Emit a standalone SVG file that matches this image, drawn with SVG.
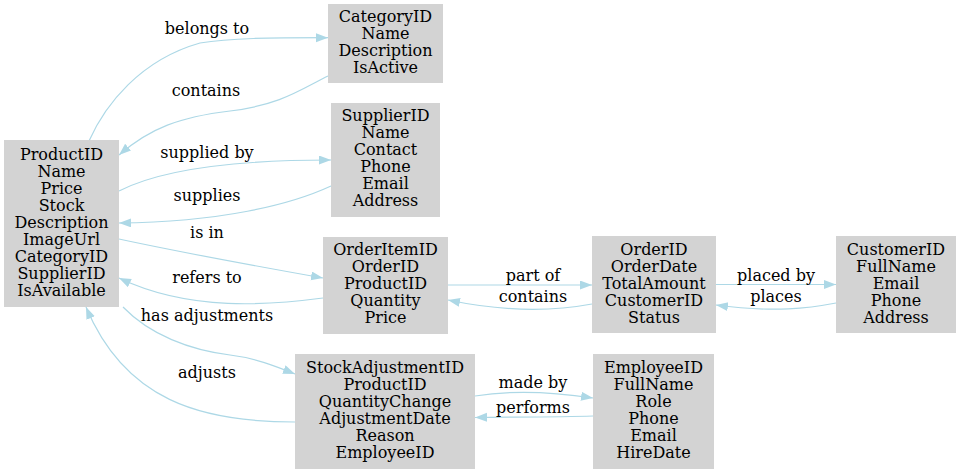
<svg xmlns="http://www.w3.org/2000/svg" width="960" height="473" viewBox="0 0 960 473">
<style>
.box{fill:#d3d3d3;stroke:none}
text{font-family:"DejaVu Serif","Liberation Serif",serif;font-size:16px;fill:#000;text-anchor:middle}
.e{fill:none;stroke:#add8e6;stroke-width:1.2}
</style>
<defs>
<marker id="arr" markerUnits="userSpaceOnUse" markerWidth="13" markerHeight="10" refX="12" refY="4.5" orient="auto">
<path d="M0,0 L12,4.5 L0,9 z" fill="#add8e6"/>
</marker>
</defs>
<rect width="960" height="473" fill="#fff"/>
<g id="connectors">
<path class="e" marker-end="url(#arr)" d="M89,141 C105,105 140,60 200,43 C230,38 270,37.7 328,37.7"/>
<text x="207" y="34">belongs to</text>
<path class="e" marker-end="url(#arr)" d="M328,76 C300,90 280,105 230,111 C180,117 150,128 119,155"/>
<text x="206" y="96">contains</text>
<path class="e" marker-end="url(#arr)" d="M119,191 C160,170 230,160 331,160"/>
<text x="207" y="158">supplied by</text>
<path class="e" marker-end="url(#arr)" d="M331,186 C290,205 220,222 119,223"/>
<text x="207" y="201">supplies</text>
<path class="e" marker-end="url(#arr)" d="M119,239 C170,250 250,265 323,278"/>
<text x="207" y="238">is in</text>
<path class="e" marker-end="url(#arr)" d="M323,298 C270,305 190,312 119,278"/>
<text x="207" y="283">refers to</text>
<path class="e" marker-end="url(#arr)" d="M123,307 C150,335 190,350 230,355 C255,358 275,366 295,374"/>
<text x="207" y="321">has adjustments</text>
<path class="e" marker-end="url(#arr)" d="M295,422 C200,422 125,400 86,307"/>
<text x="207" y="378">adjusts</text>
<path class="e" marker-end="url(#arr)" d="M448,285 L592,285"/>
<text x="533" y="281">part of</text>
<path class="e" marker-end="url(#arr)" d="M592,304 C560,310 510,313 448,300"/>
<text x="533" y="302">contains</text>
<path class="e" marker-end="url(#arr)" d="M716,284.5 L836,284.5"/>
<text x="776" y="281">placed by</text>
<path class="e" marker-end="url(#arr)" d="M836,303 C810,308 775,313 716,305"/>
<text x="776" y="302">places</text>
<path class="e" marker-end="url(#arr)" d="M475,396 C500,392 540,390 593,398"/>
<text x="533" y="388">made by</text>
<path class="e" marker-end="url(#arr)" d="M593,416 C560,417 520,417 475,417.5"/>
<text x="533" y="413">performs</text>
</g>
<g id="product">
<rect class="box" x="4" y="140" width="115" height="167"/>
<text x="61.5" y="159.5">ProductID</text>
<text x="61.5" y="176.5">Name</text>
<text x="61.5" y="193.5">Price</text>
<text x="61.5" y="210.5">Stock</text>
<text x="61.5" y="227.5">Description</text>
<text x="61.5" y="244.5">ImageUrl</text>
<text x="61.5" y="261.5">CategoryID</text>
<text x="61.5" y="278.5">SupplierID</text>
<text x="61.5" y="295.5">IsAvailable</text>
</g>
<g id="category">
<rect class="box" x="328" y="4" width="115" height="79"/>
<text x="385.5" y="21.7">CategoryID</text>
<text x="385.5" y="38.7">Name</text>
<text x="385.5" y="55.7">Description</text>
<text x="385.5" y="72.7">IsActive</text>
</g>
<g id="supplier">
<rect class="box" x="331" y="103" width="109" height="114"/>
<text x="385.5" y="121">SupplierID</text>
<text x="385.5" y="138">Name</text>
<text x="385.5" y="155">Contact</text>
<text x="385.5" y="172">Phone</text>
<text x="385.5" y="189">Email</text>
<text x="385.5" y="206">Address</text>
</g>
<g id="orderitem">
<rect class="box" x="323" y="237" width="125" height="97"/>
<text x="385.5" y="255.3">OrderItemID</text>
<text x="385.5" y="272.3">OrderID</text>
<text x="385.5" y="289.3">ProductID</text>
<text x="385.5" y="306.3">Quantity</text>
<text x="385.5" y="323.3">Price</text>
</g>
<g id="stockadjustment">
<rect class="box" x="295" y="354" width="180" height="115"/>
<text x="385" y="372.5">StockAdjustmentID</text>
<text x="385" y="389.5">ProductID</text>
<text x="385" y="406.5">QuantityChange</text>
<text x="385" y="423.5">AdjustmentDate</text>
<text x="385" y="440.5">Reason</text>
<text x="385" y="457.5">EmployeeID</text>
</g>
<g id="order">
<rect class="box" x="592" y="236" width="124" height="97"/>
<text x="654" y="254.5">OrderID</text>
<text x="654" y="271.5">OrderDate</text>
<text x="654" y="288.5">TotalAmount</text>
<text x="654" y="305.5">CustomerID</text>
<text x="654" y="322.5">Status</text>
</g>
<g id="customer">
<rect class="box" x="836" y="236" width="120" height="97"/>
<text x="896" y="254.5">CustomerID</text>
<text x="896" y="271.5">FullName</text>
<text x="896" y="288.5">Email</text>
<text x="896" y="305.5">Phone</text>
<text x="896" y="322.5">Address</text>
</g>
<g id="employee">
<rect class="box" x="593" y="354" width="121" height="115"/>
<text x="653.5" y="372.5">EmployeeID</text>
<text x="653.5" y="389.5">FullName</text>
<text x="653.5" y="406.5">Role</text>
<text x="653.5" y="423.5">Phone</text>
<text x="653.5" y="440.5">Email</text>
<text x="653.5" y="457.5">HireDate</text>
</g>
</svg>
